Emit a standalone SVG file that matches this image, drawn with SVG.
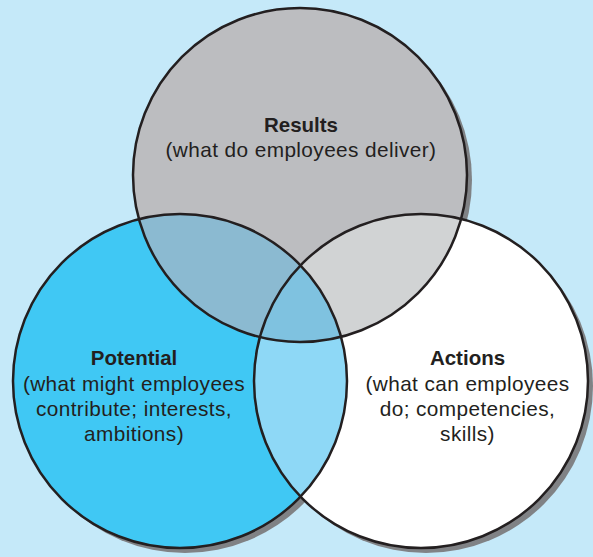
<svg xmlns="http://www.w3.org/2000/svg" width="593" height="557" viewBox="0 0 593 557">
  <style>
    .outline { fill: none; stroke: #231f20; stroke-width: 2.5; }
    .shadow { fill: #808285; }
    .title { font-family: "Liberation Sans", Arial, sans-serif; font-size: 20.5px; font-weight: bold; fill: #231f20; text-anchor: middle; }
    .desc { font-family: "Liberation Sans", Arial, sans-serif; font-size: 20.8px; letter-spacing: 0.4px; fill: #231f20; text-anchor: middle; }
  </style>
  <defs>
    <circle id="cTop" cx="300" cy="175" r="167"/>
    <circle id="cLeft" cx="180" cy="381" r="167"/>
    <circle id="cRight" cx="421" cy="381" r="167"/>
    <clipPath id="clipTop"><use href="#cTop"/></clipPath>
    <clipPath id="clipLeft"><use href="#cLeft"/></clipPath>
    <clipPath id="clipRight"><use href="#cRight"/></clipPath>
  </defs>
  <rect x="0" y="0" width="593" height="557" fill="#c5e9f9"/>
  <g id="shadows">
    <circle class="shadow" cx="305" cy="180" r="167"/>
    <circle class="shadow" cx="185" cy="386" r="167"/>
    <circle class="shadow" cx="426" cy="386" r="167"/>
  </g>
  <g id="fills">
    <use href="#cTop" fill="#bcbdc0"/>
    <use href="#cLeft" fill="#40c8f4"/>
    <use href="#cRight" fill="#ffffff"/>
    <g clip-path="url(#clipTop)">
      <use href="#cLeft" fill="#8bbad1"/>
      <use href="#cRight" fill="#d1d3d4"/>
    </g>
    <g clip-path="url(#clipLeft)">
      <use href="#cRight" fill="#8ed8f6"/>
    </g>
    <g clip-path="url(#clipTop)">
      <g clip-path="url(#clipLeft)">
        <use href="#cRight" fill="#7fc2e0"/>
      </g>
    </g>
  </g>
  <g id="results">
    <use href="#cTop" class="outline"/>
    <text class="title" x="301" y="132">Results</text>
    <text class="desc" x="301" y="157">(what do employees deliver)</text>
  </g>
  <g id="potential">
    <use href="#cLeft" class="outline"/>
    <text class="title" x="134" y="365">Potential</text>
    <text class="desc" x="134" y="391">(what might employees</text>
    <text class="desc" x="134" y="416">contribute; interests,</text>
    <text class="desc" x="134" y="441">ambitions)</text>
  </g>
  <g id="actions">
    <use href="#cRight" class="outline"/>
    <text class="title" x="467.5" y="365">Actions</text>
    <text class="desc" x="467.5" y="391">(what can employees</text>
    <text class="desc" x="467.5" y="416">do; competencies,</text>
    <text class="desc" x="467.5" y="441">skills)</text>
  </g>
  <g id="connectors"></g>
</svg>
